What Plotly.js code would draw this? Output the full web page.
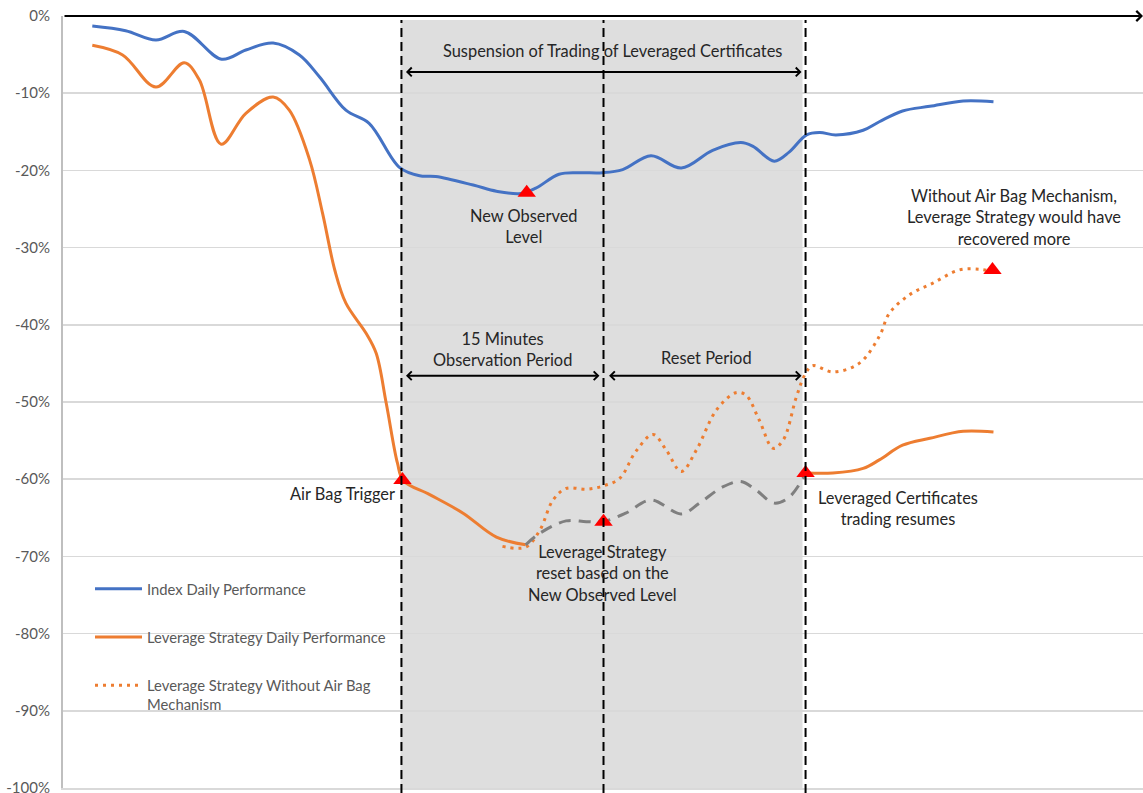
<!DOCTYPE html>
<html>
<head>
<meta charset="utf-8">
<script src="https://cdn.plot.ly/plotly-3.0.1.min.js"></script>
<style>html,body{margin:0;padding:0;background:#fff;}#chart{width:1143px;height:793px;}</style>
</head>
<body>
<div id="chart"></div>
<script>
// Index Daily Performance (%)
const indexX = [3.4, 6.7, 9.7, 12.5, 16.2, 18.6, 21.3, 23.9, 25.9, 28.5, 30.8, 33.8, 35.8, 37.4, 41.1, 43.4, 45.8, 47.3, 49.6, 51.6, 53.9, 55.9, 58.7, 61.7, 64.8, 67.6, 68.8, 70.9, 72.4, 74.1, 75.4, 77.0, 79.7, 81.3, 83.6, 86.3, 89.6, 92.6];
const indexY = [-1.3, -1.9, -3.1, -2.0, -5.6, -4.4, -3.5, -5.05, -7.9, -12.2, -13.9, -19.6, -20.7, -20.8, -21.9, -22.7, -23.0, -22.3, -20.5, -20.3, -20.3, -19.9, -18.1, -19.7, -17.4, -16.4, -16.9, -18.8, -17.6, -15.4, -15.1, -15.4, -14.8, -13.7, -12.3, -11.7, -11.0, -11.1];

// Leverage Strategy Daily Performance (%) - gap during reset period
const levX = [3.4, 6.4, 9.7, 12.5, 14.0, 16.15, 18.6, 21.3, 22.9, 24.9, 26.2, 27.4, 28.5, 30.5, 31.5, 32.5, 33.6, 34.2, 36.8, 40.1, 43.4, 46.3, null, 74.1, 76.7, 79.7, 81.3, 83.6, 86.3, 89.6, 92.6];
const levY = [-3.8, -5.05, -9.2, -6.05, -8.3, -16.6, -12.6, -10.5, -12.2, -18.6, -25.6, -32.9, -37.2, -41.1, -43.7, -50.2, -57.9, -60.2, -62.0, -64.4, -67.5, -68.5, null, -59.2, -59.2, -58.6, -57.5, -55.6, -54.7, -53.8, -53.9];

// Leverage Strategy Without Air Bag Mechanism (%)
const noBagX = [44.0, 46.3, 47.7, 49.0, 50.3, 52.3, 53.9, 55.6, 57.2, 58.9, 60.2, 61.7, 63.2, 65.2, 67.1, 68.1, 69.4, 70.8, 71.8, 73.1, 74.0, 74.7, 76.7, 79.3, 81.3, 82.3, 84.3, 86.6, 89.2, 91.2, 92.5];
const noBagY = [-68.7, -68.8, -66.6, -62.7, -61.2, -61.3, -60.9, -59.9, -56.4, -54.2, -56.2, -59.0, -56.2, -51.0, -48.8, -49.1, -52.3, -56.0, -54.9, -49.3, -46.3, -45.3, -46.1, -45.0, -41.5, -38.5, -36.1, -34.6, -32.9, -32.8, -33.1];

// Leverage Strategy path after reset (grey dashed, %)
const resetX = [46.3, 47.7, 50.3, 52.3, 53.9, 56.2, 58.7, 61.7, 63.5, 65.8, 67.6, 69.1, 70.9, 72.4, 74.0];
const resetY = [-68.5, -67.0, -65.4, -65.5, -65.5, -64.4, -62.7, -64.5, -63.1, -61.0, -60.3, -61.4, -63.1, -62.3, -59.3];

// Key events (red triangles)
const eventMarkX = [34.1, 46.4, 54.0, 74.0, 92.5];
const eventMarkY = [-60.1, -22.9, -65.5, -59.2, -32.9];

// Event times: Air Bag trigger, reset, trading resumes
const eventX = [34, 54, 74];

// Y tick values and labels
const yTickVals = [0, -10, -20, -30, -40, -50, -60, -70, -80, -90, -100];
const yTickText = ['0%', '-10%', '-20%', '-30%', '-40%', '-50%', '-60%', '-70%', '-80%', '-90%', '-100%'];

const seriesNames = ['Index Daily Performance', 'Leverage Strategy Daily Performance', 'Leverage Strategy Without Air Bag<br>Mechanism'];

const BLUE = '#4472C4', ORANGE = '#ED7D31', GREY = '#7F7F7F', RED = '#FF0000', TXT = '#262626';

const traces = [
  {x: indexX, y: indexY, name: seriesNames[0], type: 'scatter', mode: 'lines', line: {color: BLUE, width: 3, shape: 'spline', smoothing: 1}, legendgroup: 'a', hoverinfo: 'skip'},
  {x: levX, y: levY, name: seriesNames[1], type: 'scatter', mode: 'lines', connectgaps: false, line: {color: ORANGE, width: 3, shape: 'spline', smoothing: 1}, legendgroup: 'b', hoverinfo: 'skip'},
  {x: noBagX, y: noBagY, name: seriesNames[2], type: 'scatter', mode: 'lines', line: {color: ORANGE, width: 3, dash: '3px,5px', shape: 'spline', smoothing: 1}, legendgroup: 'c', hoverinfo: 'skip'},
  {x: resetX, y: resetY, name: 'reset', type: 'scatter', mode: 'lines', showlegend: false, line: {color: GREY, width: 3, dash: '12px,8px', shape: 'spline', smoothing: 1}, hoverinfo: 'skip'},
  {x: eventMarkX, y: eventMarkY, name: 'events', type: 'scatter', mode: 'markers', showlegend: false, marker: {symbol: 'triangle-up', size: 16, color: RED}, hoverinfo: 'skip'}
];

const shapes = [
  {type: 'rect', xref: 'x', yref: 'paper', x0: eventX[0] - 0.1, x1: eventX[2] - 0.3, y0: 0, y1: 0.9948, fillcolor: '#dedede', line: {width: 0}, layer: 'below'}
];
eventX.forEach(function (ex) {
  shapes.push({type: 'line', xref: 'x', yref: 'paper', x0: ex, x1: ex, y0: -0.0065, y1: 0.9948, line: {color: '#000', width: 2, dash: '9px,5px'}, layer: 'above'});
});

function txt(x, y, text, extra) {
  return Object.assign({x: x, y: y, xref: 'x', yref: 'y', text: text, showarrow: false, font: {family: 'Lato', size: 16.4, color: TXT}, align: 'center'}, extra || {});
}
function dblArrow(x0, x1, y) {
  return {x: x1, y: y, ax: x0, ay: y, xref: 'x', yref: 'y', axref: 'x', ayref: 'y', text: '', showarrow: true,
    arrowside: 'end+start', arrowhead: 4, startarrowhead: 4, arrowsize: 0.85, startarrowsize: 0.85, arrowwidth: 2, arrowcolor: '#000', standoff: 0, startstandoff: 0};
}

const annotations = [
  // top axis with arrow
  {x: 107.4, y: 0, ax: 0.5, ay: 0, xref: 'x', yref: 'y', axref: 'x', ayref: 'y', text: '', showarrow: true, arrowhead: 4, arrowsize: 1.1, arrowwidth: 1.8, arrowcolor: '#000', standoff: 0},
  txt(54.9, -4.5, 'Suspension of Trading of Leveraged Certificates'),
  dblArrow(34.3, 73.6, -7.25),
  txt(46.1, -27.2, 'New Observed<br>Level'),
  txt(44.0, -43.1, '15 Minutes<br>Observation Period'),
  dblArrow(34.3, 53.6, -46.6),
  txt(64.2, -44.2, 'Reset Period'),
  dblArrow(54.4, 73.6, -46.6),
  txt(33.6, -61.8, 'Air Bag Trigger', {xanchor: 'right'}),
  txt(53.9, -72.2, 'Leverage Strategy<br>reset based on the<br>New Observed Level'),
  txt(83.1, -63.7, 'Leveraged Certificates<br>trading resumes'),
  txt(94.6, -26.0, 'Without Air Bag Mechanism,<br>Leverage Strategy would have<br>recovered more')
];

const layout = {
  width: 1143, height: 793,
  margin: {l: 63, r: 0, t: 16, b: 5, pad: 0},
  paper_bgcolor: '#ffffff', plot_bgcolor: '#ffffff',
  font: {family: 'Lato, "Open Sans", sans-serif', size: 16, color: TXT},
  xaxis: {range: [0.5, 107.4], showgrid: false, zeroline: false, showticklabels: false, showline: true, linecolor: '#d9d9d9', linewidth: 1.5, side: 'bottom', ticks: '', fixedrange: true},
  yaxis: {range: [-100, 0], tickmode: 'array', tickvals: yTickVals, ticktext: yTickText, showgrid: true, gridcolor: '#d9d9d9', gridwidth: 1.5,
    zeroline: false, showline: true, linecolor: '#bfbfbf', linewidth: 2, ticks: '', ticklabelstandoff: 8, ticklabeloverflow: 'allow',
    tickfont: {family: 'Lato', size: 15, color: '#595959'}, fixedrange: true},
  showlegend: true,
  legend: {x: 0.025, xanchor: 'left', y: 0.279, yanchor: 'top', bgcolor: 'rgba(0,0,0,0)', borderwidth: 0,
    font: {family: 'Lato', size: 14.8, color: '#595959'}, tracegroupgap: 26, itemwidth: 47, valign: 'top', traceorder: 'grouped'},
  shapes: shapes,
  annotations: annotations,
  hovermode: false
};

Plotly.newPlot('chart', traces, layout, {displayModeBar: false, staticPlot: true});
</script>
</body>
</html>
